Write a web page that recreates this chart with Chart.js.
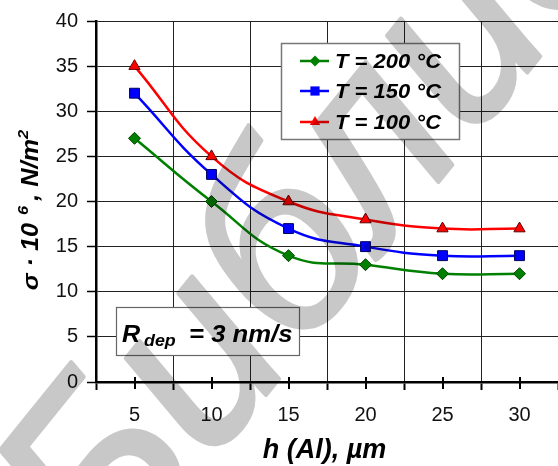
<!DOCTYPE html>
<html>
<head>
<meta charset="utf-8">
<script src="https://cdn.jsdelivr.net/npm/chart.js@4.4.1/dist/chart.umd.min.js"></script>
<style>
  html, body { margin: 0; padding: 0; background: #fff; }
  #wrap { width: 558px; height: 466px; }
</style>
</head>
<body>
<div id="wrap"><canvas id="chart" width="558" height="466"></canvas></div>
<script>
// film thickness h(Al), um
const thickness = ['5', '10', '15', '20', '25', '30'];
// stress sigma * 10^6, N/m^2
const stressT200 = [27, 20, 14, 13, 12, 12];
const stressT150 = [32, 23, 17, 15, 14, 14];
const stressT100 = [35, 25, 20, 18, 17, 17];
const seriesLabels = ['T = 200 °C', 'T = 150 °C', 'T = 100 °C'];
const yMin = 0, yMax = 40, yStep = 5;

const FONT = '"Liberation Sans", Arial, sans-serif';
const BI = 'italic bold ';

// text drawn slightly wider, like the stretched original
function txt(ctx, s, x, y, font, sx, align) {
  ctx.save();
  ctx.font = font;
  ctx.translate(x, y);
  ctx.scale(sx, 1);
  ctx.textAlign = align || 'left';
  ctx.fillText(s, 0, 0);
  ctx.restore();
}

const extras = {
  id: 'extras',
  afterDraw(chart) {
    const ctx = chart.ctx;
    const x = chart.scales.x, area = chart.chartArea;
    ctx.save();

    // crossing tick marks at category centres
    ctx.strokeStyle = '#000';
    ctx.lineWidth = 2;
    thickness.forEach((t, i) => {
      const px = Math.round(x.getPixelForValue(i));
      ctx.beginPath();
      ctx.moveTo(px, area.bottom - 5);
      ctx.lineTo(px, area.bottom + 7);
      ctx.stroke();
    });

    // legend
    ctx.fillStyle = '#fff';
    ctx.fillRect(281, 43, 178, 96);
    ctx.strokeStyle = '#777';
    ctx.lineWidth = 1.5;
    ctx.strokeRect(281.5, 43.5, 178, 96);
    ctx.textBaseline = 'alphabetic';
    const rows = [61, 91, 122];
    chart.data.datasets.forEach((ds, i) => {
      const y = rows[i];
      ctx.strokeStyle = ds.borderColor;
      ctx.lineWidth = 2.5;
      ctx.beginPath();
      ctx.moveTo(300, y);
      ctx.lineTo(329, y);
      ctx.stroke();
      ctx.fillStyle = ds.pointBackgroundColor;
      ctx.strokeStyle = ds.pointBorderColor;
      ctx.lineWidth = 1;
      Chart.helpers.drawPoint(ctx, {pointStyle: ds.pointStyle, radius: ds.pointRadius - 0.5, rotation: 0}, 315, y);
      ctx.fillStyle = '#000';
      txt(ctx, ds.label, 335, y + 7, BI + '20px ' + FONT, 1.1);
    });

    // note box
    ctx.fillStyle = '#fff';
    ctx.fillRect(116, 307, 183, 48);
    ctx.strokeStyle = '#666';
    ctx.lineWidth = 1.2;
    ctx.strokeRect(116.5, 307.5, 183, 48);
    ctx.fillStyle = '#000';
    txt(ctx, 'R', 122, 342, BI + '24px ' + FONT, 1.05);
    txt(ctx, 'dep', 144, 345.5, BI + '17px ' + FONT, 1.05);
    txt(ctx, '= 3 nm/s', 189, 342, BI + '24px ' + FONT, 1.07);

    // x title
    txt(ctx, 'h (Al), \u00b5m', 324.5, 458, BI + '27px ' + FONT, 1.0, 'center');

    // y title (rotated, with superscripts)
    const parts = [
      ['σ · 10', 23, 0], ['\u2009 6', 15, -10], ['\u2009, N/m', 23, 0], ['2', 15, -10]
    ];
    const sx = 1.1;
    let total = 0;
    parts.forEach(p => { ctx.font = BI + p[1] + 'px ' + FONT; p.push(ctx.measureText(p[0]).width * sx); total += p[3]; });
    ctx.translate(38, 210);
    ctx.rotate(-Math.PI / 2);
    let cx = -total / 2;
    parts.forEach(p => {
      txt(ctx, p[0], cx, p[2], BI + p[1] + 'px ' + FONT, sx);
      cx += p[3];
    });
    ctx.restore();

    // watermark, drawn off-screen then multiplied over the chart
    const off = document.createElement('canvas');
    off.width = 558; off.height = 466;
    const o = off.getContext('2d');
    o.fillStyle = o.strokeStyle = '#c8c8c8';
    o.lineWidth = 4;
    o.lineJoin = 'round';
    o.font = 'italic 250px ' + FONT;
    o.translate(108, 590);
    o.rotate(-51 * Math.PI / 180);
    o.fillText('Библиотека', 0, 0);
    o.strokeText('Библиотека', 0, 0);
    ctx.save();
    ctx.globalCompositeOperation = 'multiply';
    ctx.drawImage(off, 0, 0, 558, 466);
    ctx.restore();
  }
};

new Chart(document.getElementById('chart'), {
  type: 'line',
  data: {
    labels: thickness,
    datasets: [
      {
        label: seriesLabels[0], data: stressT200,
        borderColor: '#008000', pointBackgroundColor: '#008000', pointBorderColor: '#004000',
        pointStyle: 'rectRot', pointRadius: 6, borderWidth: 2.5, pointBorderWidth: 1, tension: 0.45
      },
      {
        label: seriesLabels[1], data: stressT150,
        borderColor: '#0000ff', pointBackgroundColor: '#0000ff', pointBorderColor: '#000060',
        pointStyle: 'rect', pointRadius: 7, borderWidth: 2.5, pointBorderWidth: 1, tension: 0.45
      },
      {
        label: seriesLabels[2], data: stressT100,
        borderColor: '#ff0000', pointBackgroundColor: '#ff0000', pointBorderColor: '#600000',
        pointStyle: 'triangle', pointRadius: 6.5, borderWidth: 2.5, pointBorderWidth: 1, tension: 0.45
      }
    ]
  },
  options: {
    responsive: false,
    animation: false,
    layout: { autoPadding: false, padding: { top: 21, left: 0, right: 0, bottom: 0 } },
    plugins: { legend: { display: false }, tooltip: { enabled: false } },
    scales: {
      x: {
        type: 'category',
        offset: true,
        grid: { offset: true, color: '#222', lineWidth: 1, tickLength: 8, tickWidth: 2, tickColor: '#000' },
        border: { color: '#000', width: 2.5 },
        ticks: { font: { family: FONT, size: 20 }, color: '#111', padding: 13, maxRotation: 0 },
        afterFit: s => { s.height = 84; s.paddingLeft = 0; s.paddingRight = 0; }
      },
      y: {
        min: yMin, max: yMax,
        ticks: { stepSize: yStep, font: { family: FONT, size: 20 }, color: '#111', padding: 9 },
        grid: { color: '#222', lineWidth: 1, tickLength: 9, tickWidth: 1.5, tickColor: '#000' },
        border: { color: '#000', width: 2.5 },
        afterFit: s => { s.width = 96; s.paddingTop = 0; s.paddingBottom = 0; }
      }
    }
  },
  plugins: [extras]
});
</script>
</body>
</html>
